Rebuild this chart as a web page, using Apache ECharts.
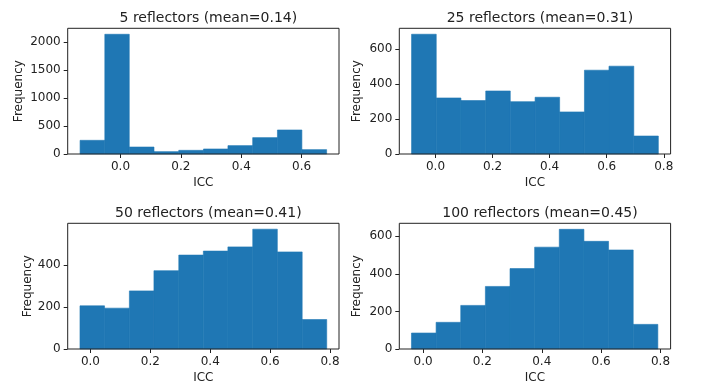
<!DOCTYPE html>
<html><head><meta charset="utf-8">
<script src="https://cdn.jsdelivr.net/npm/echarts@6/dist/echarts.min.js"></script>
<style>html,body{margin:0;padding:0;background:#fff}#c{width:701px;height:386px}</style>
</head><body><div id="c"></div>
<script>
const titles = ["5 reflectors (mean=0.14)", "25 reflectors (mean=0.31)", "50 reflectors (mean=0.41)", "100 reflectors (mean=0.45)"];
const edges5   = [-0.134, -0.052, 0.029, 0.111, 0.193, 0.275, 0.356, 0.438, 0.520, 0.601, 0.683];
const counts5  = [245, 2143, 125, 42, 66, 90, 150, 293, 430, 78];
const edges25  = [-0.084, 0.0025, 0.089, 0.176, 0.262, 0.349, 0.435, 0.522, 0.608, 0.695, 0.781];
const counts25 = [686, 321, 306, 361, 300, 325, 241, 480, 503, 103];
const edges50  = [-0.035, 0.047, 0.130, 0.212, 0.295, 0.377, 0.459, 0.542, 0.624, 0.707, 0.789];
const counts50 = [205, 194, 276, 372, 446, 465, 485, 569, 461, 140];
const edges100 = [-0.039, 0.044, 0.127, 0.210, 0.293, 0.376, 0.459, 0.542, 0.625, 0.708, 0.791];
const counts100= [85, 142, 232, 333, 428, 542, 637, 573, 527, 131];
const xTicks5 = [0, 0.2, 0.4, 0.6];
const xTicksOther = [0, 0.2, 0.4, 0.6, 0.8];
const yTicks5 = [0, 500, 1000, 1500, 2000];
const yTicks25 = [0, 200, 400, 600];
const yTicks50 = [0, 200, 400];
const yTicks100 = [0, 200, 400, 600];

const panels = [
  {edges: edges5, counts: counts5, xt: xTicks5, yt: yTicks5, xmin: -0.175, xmax: 0.724, ymax: 2250},
  {edges: edges25, counts: counts25, xt: xTicksOther, yt: yTicks25, xmin: -0.127, xmax: 0.824, ymax: 720},
  {edges: edges50, counts: counts50, xt: xTicksOther, yt: yTicks50, xmin: -0.076, xmax: 0.830, ymax: 597},
  {edges: edges100, counts: counts100, xt: xTicksOther, yt: yTicks100, xmin: -0.080, xmax: 0.834, ymax: 669}
];
const boxes = [
  {l: 67.7, t: 28.3}, {l: 399.3, t: 28.3}, {l: 67.7, t: 223.3}, {l: 399.3, t: 223.3}
];
const W = 271.3, H = 125.7;
const font = 'DejaVu Sans';
const tc = '#222';

const option = {
  animation: false,
  backgroundColor: '#fff',
  textStyle: {fontFamily: font},
  title: panels.map((p, i) => ({
    text: titles[i], left: boxes[i].l + W / 2, textAlign: 'center', top: boxes[i].t - 22,
    textStyle: {fontFamily: font, fontSize: 14, fontWeight: 'normal', color: tc}
  })),
  grid: boxes.map(b => ({left: b.l, top: b.t, width: W, height: H, show: true, borderColor: '#222', borderWidth: 1, backgroundColor: 'transparent', z: 5})),
  xAxis: panels.map((p, i) => ({
    type: 'value', gridIndex: i, min: p.xmin, max: p.xmax,
    name: 'ICC', nameLocation: 'middle', nameGap: 23,
    nameTextStyle: {fontFamily: font, fontSize: 12, color: tc},
    splitLine: {show: false},
    axisLine: {show: false, onZero: false},
    axisTick: {show: true, inside: false, length: 4, lineStyle: {color: '#222'}, customValues: p.xt},
    axisLabel: {fontFamily: font, fontSize: 12, color: tc, margin: 7, customValues: p.xt, formatter: v => v.toFixed(1)}
  })),
  yAxis: panels.map((p, i) => ({
    type: 'value', gridIndex: i, min: 0, max: p.ymax,
    name: 'Frequency', nameLocation: 'middle', nameGap: i === 0 ? 43 : (i === 2 ? 34 : 36),
    nameTextStyle: {fontFamily: font, fontSize: 12, color: tc},
    splitLine: {show: false},
    axisLine: {show: false, onZero: false},
    axisTick: {show: true, inside: false, length: 4, lineStyle: {color: '#222'}, customValues: p.yt},
    axisLabel: {fontFamily: font, fontSize: 12, color: tc, margin: 7, customValues: p.yt, formatter: v => String(v)}
  })),
  series: panels.map((p, i) => ({
    type: 'custom', xAxisIndex: i, yAxisIndex: i,
    encode: {x: [0, 1], y: 2},
    data: p.counts.map((c, k) => [p.edges[k], p.edges[k + 1], c]),
    renderItem: (params, api) => {
      const a = api.coord([api.value(0), 0]);
      const b = api.coord([api.value(1), api.value(2)]);
      return {type: 'rect', shape: {x: a[0], y: b[1], width: b[0] - a[0], height: a[1] - b[1]},
        style: {fill: '#1f77b4', stroke: '#1f77b4', lineWidth: 0.6}};
    }
  }))
};
const chart = echarts.init(document.getElementById('c'), null, {renderer: 'canvas'});
chart.setOption(option);
</script></body></html>
